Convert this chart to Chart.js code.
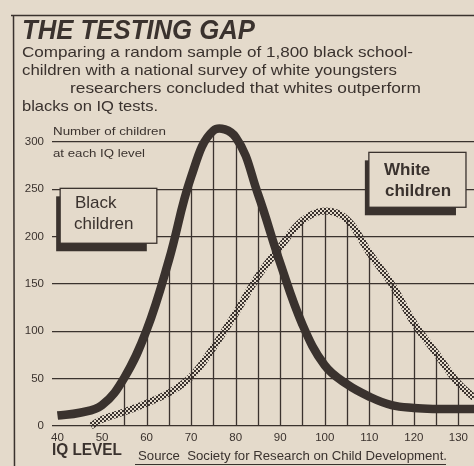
<!DOCTYPE html>
<html>
<head>
<meta charset="utf-8">
<script src="https://cdn.jsdelivr.net/npm/chart.js@4/dist/chart.umd.min.js"></script>
<style>
  html, body { margin: 0; padding: 0; background: #e4dacb; }
  #chart { display: block; }
</style>
</head>
<body>
<canvas id="chart" width="474" height="466"></canvas>
<script>
var INK = '#3a322e';
var PAPER = '#e4dacb';
var FONT = "'Liberation Sans', Arial, sans-serif";

// IQ level -> number of children
var blackIQ = [40, 45, 50, 55, 60, 65, 70, 75, 80, 85, 90, 95, 100, 105, 110, 115, 120, 125, 130, 133.5];
var blackCount = [11, 14, 22, 51, 101, 175, 263, 312, 305, 245, 172, 107, 64, 44, 31, 22, 19, 18, 18, 18];

var whiteIQ = [47.5, 50, 55, 60, 65, 70, 75, 80, 85, 90, 95, 100, 105, 110, 115, 120, 125, 130, 133.5];
var whiteCount = [0, 7, 15, 24, 35, 52, 83, 119, 158, 189, 217, 227, 218, 183, 150, 109, 77, 45, 30];

var yTicks = [0, 50, 100, 150, 200, 250, 300];
var xTicks = [40, 50, 60, 70, 80, 90, 100, 110, 120, 130];
var gridIQ = [55, 60, 65, 70, 75, 80, 85, 90, 95, 100, 105, 110, 115, 120, 125, 130];

function pts(xs, ys) {
    return xs.map(function (x, i) { return { x: x, y: ys[i] }; });
}

function valueAt(xs, ys, v) {
    var i = xs.indexOf(v);
    return i < 0 ? 0 : ys[i];
}

// stippled ink for the white children curve
function stipple() {
    var c = document.createElement('canvas');
    c.width = 4; c.height = 4;
    var g = c.getContext('2d');
    g.fillStyle = INK;
    g.fillRect(0, 0, 2, 2);
    g.fillRect(2, 2, 2, 2);
    return g.createPattern(c, 'repeat');
}

function fitText(ctx, txt, x, y, w, font) {
    ctx.font = font;
    var m = ctx.measureText(txt).width;
    ctx.save();
    ctx.translate(x, y);
    ctx.scale(w / m, 1);
    ctx.fillText(txt, 0, 0);
    ctx.restore();
}

function labelBox(ctx, x0, y0, x1, y1, lines, bold) {
    ctx.fillStyle = INK;
    ctx.fillRect(x0 - 4, y0 + 8, x1 - x0 - 6, y1 - y0);
    ctx.fillStyle = PAPER;
    ctx.fillRect(x0, y0, x1 - x0, y1 - y0);
    ctx.strokeStyle = INK;
    ctx.lineWidth = 1.3;
    ctx.strokeRect(x0, y0, x1 - x0, y1 - y0);
    ctx.fillStyle = INK;
    ctx.font = (bold ? 'bold ' : '') + '17px ' + FONT;
    ctx.textAlign = 'left';
    ctx.textBaseline = 'alphabetic';
    lines.forEach(function (l) { ctx.fillText(l[0], l[1], l[2]); });
}

var paper = {
    id: 'paper',
    beforeDraw: function (chart) {
        var ctx = chart.ctx;
        ctx.save();
        ctx.fillStyle = PAPER;
        ctx.fillRect(0, 0, chart.width, chart.height);
        ctx.restore();
    },
    beforeDatasetsDraw: function (chart) {
        var ctx = chart.ctx, xs = chart.scales.x, ys = chart.scales.y;
        ctx.save();
        ctx.strokeStyle = INK;
        ctx.lineWidth = 1.3;
        gridIQ.forEach(function (v) {
            var top = Math.max(valueAt(blackIQ, blackCount, v), valueAt(whiteIQ, whiteCount, v));
            var px = Math.round(xs.getPixelForValue(v)) + 0.5;
            ctx.beginPath();
            ctx.moveTo(px, ys.getPixelForValue(0));
            ctx.lineTo(px, ys.getPixelForValue(top));
            ctx.stroke();
        });

        labelBox(ctx, xs.getPixelForValue(40.6), ys.getPixelForValue(251), xs.getPixelForValue(62.3), ys.getPixelForValue(193),
            [['Black', 75, 208], ['children', 74, 229]], false);
        labelBox(ctx, xs.getPixelForValue(109.9), ys.getPixelForValue(289), xs.getPixelForValue(131.7), ys.getPixelForValue(231),
            [['White', 384, 175], ['children', 385, 196]], true);

        ctx.fillStyle = INK;
        ctx.textAlign = 'left';
        fitText(ctx, 'Number of children', 53, 135, 113, '10.5px ' + FONT);
        fitText(ctx, 'at each IQ level', 53, 157, 92, '10.5px ' + FONT);
        ctx.restore();
    },
    afterDraw: function (chart) {
        var ctx = chart.ctx;
        ctx.save();
        ctx.strokeStyle = INK;
        ctx.lineWidth = 1.5;
        ctx.beginPath();
        ctx.moveTo(11, 15.5); ctx.lineTo(474, 15.5);
        ctx.moveTo(13.5, 15); ctx.lineTo(14.5, 466);
        ctx.stroke();

        ctx.fillStyle = INK;
        ctx.textAlign = 'left';
        ctx.textBaseline = 'alphabetic';
        fitText(ctx, 'THE TESTING GAP', 22, 39, 233, 'italic bold 28px ' + FONT);
        fitText(ctx, 'Comparing a random sample of 1,800 black school-', 22, 57, 391, '15px ' + FONT);
        fitText(ctx, 'children with a national survey of white youngsters', 22, 75, 375, '15px ' + FONT);
        fitText(ctx, 'researchers concluded that whites outperform', 70, 93, 351, '15px ' + FONT);
        fitText(ctx, 'blacks on IQ tests.', 22, 111, 136, '15px ' + FONT);

        fitText(ctx, 'IQ LEVEL', 52, 455, 70, 'bold 16px ' + FONT);
        fitText(ctx, 'Source  Society for Research on Child Development.', 138, 460, 309, '12.5px ' + FONT);
        ctx.lineWidth = 1;
        ctx.beginPath();
        ctx.moveTo(135, 464.5); ctx.lineTo(446, 464.5);
        ctx.stroke();
        ctx.restore();
    }
};

new Chart(document.getElementById('chart'), {
    type: 'line',
    data: {
        datasets: [
            {
                label: 'White children',
                data: pts(whiteIQ, whiteCount),
                borderColor: stipple(),
                borderWidth: 7,
                pointRadius: 0,
                fill: false,
                tension: 0.4,
                clip: false
            },
            {
                label: 'Black children',
                data: pts(blackIQ, blackCount),
                borderColor: INK,
                borderWidth: 8.5,
                borderCapStyle: 'butt',
                borderJoinStyle: 'round',
                pointRadius: 0,
                fill: false,
                tension: 0.4,
                clip: false
            }
        ]
    },
    options: {
        responsive: false,
        devicePixelRatio: 1,
        animation: false,
        layout: { padding: { top: 123, left: 0, right: 0, bottom: 0 } },
        plugins: {
            legend: { display: false },
            tooltip: { enabled: false },
            title: { display: false }
        },
        scales: {
            x: {
                type: 'linear',
                min: 38.77,
                max: 133.5,
                afterBuildTicks: function (s) { s.ticks = xTicks.map(function (v) { return { value: v }; }); },
                afterFit: function (s) { s.height = 40; },
                grid: { display: false, drawTicks: false, tickLength: 0 },
                border: { display: false },
                ticks: {
                    color: INK,
                    padding: 5,
                    maxRotation: 0,
                    autoSkip: false,
                    font: { family: FONT, size: 11.5 }
                }
            },
            y: {
                min: 0,
                max: 320,
                afterBuildTicks: function (s) { s.ticks = yTicks.map(function (v) { return { value: v }; }); },
                afterFit: function (s) { s.width = 52; },
                grid: { color: INK, lineWidth: 1.3, drawTicks: false },
                border: { display: false },
                ticks: {
                    color: INK,
                    padding: 8,
                    font: { family: FONT, size: 11.5 }
                }
            }
        }
    },
    plugins: [paper]
});
</script>
</body>
</html>
